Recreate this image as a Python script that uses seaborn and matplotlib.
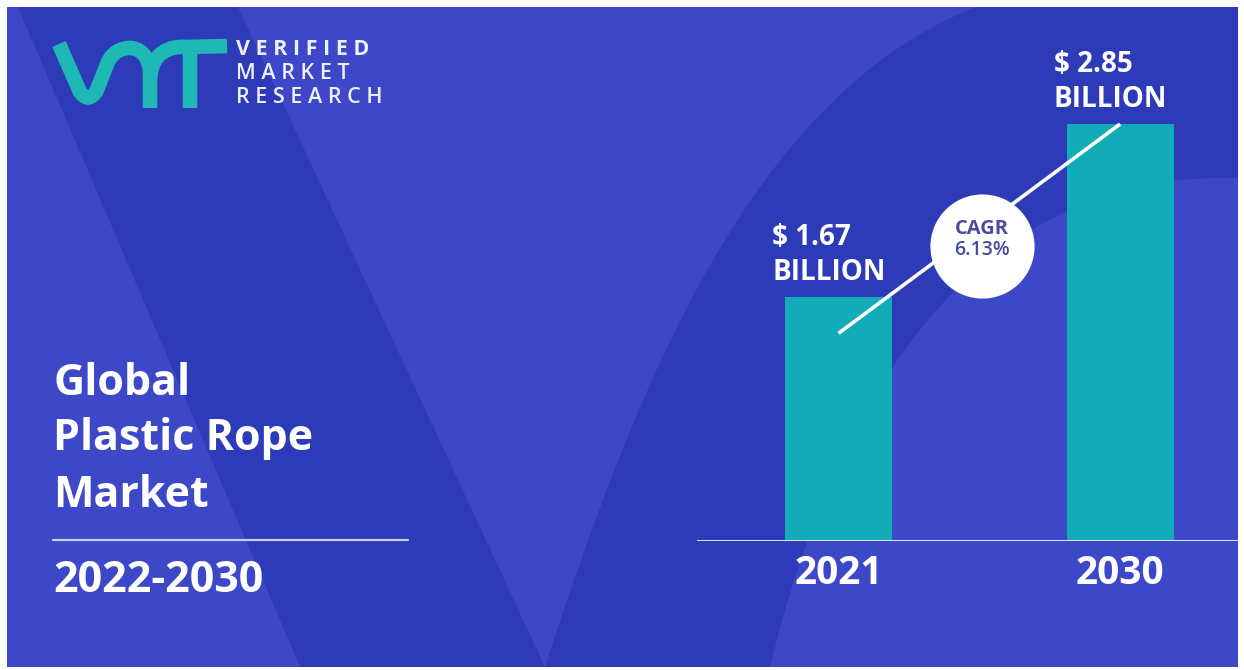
import numpy as np
import pandas as pd
import matplotlib
matplotlib.use('Agg')
import matplotlib.pyplot as plt
from matplotlib.patches import Rectangle, Polygon, PathPatch
from matplotlib.path import Path
import seaborn as sns

# chart data
years = ['2021', '2030']
market_size = [1.67, 2.85]          # USD billion
cagr_label = 'CAGR'
cagr_value = '6.13%'
title_lines = ['Global', 'Plastic Rope', 'Market']
period = '2022-2030'
brand_lines = ['V E R I F I E D', 'M A R K E T', 'R E S E A R C H']

LIGHT = '#3d48c9'
DARK = '#2d3bb8'
TEAL = '#12abb8'
LOGO_TEAL = '#1eb8b5'
LINE = '#dfe2fb'

sns.set_style('white')
plt.rcParams['font.family'] = ['Open Sans', 'DejaVu Sans']

df = pd.DataFrame({'year': years, 'size': market_size})

fig = plt.figure(figsize=(12.44, 6.70), dpi=100)
fig.patch.set_facecolor('white')

# background drawn in pixel coordinates
bg = fig.add_axes([0, 0, 1, 1])
bg.set_xlim(0, 1244)
bg.set_ylim(670, 0)
bg.axis('off')

panel = Rectangle((7, 7), 1231, 660, facecolor=LIGHT, edgecolor='none')
bg.add_patch(panel)

band = Polygon([(18, 7), (238, 7), (545, 667), (300, 667)], closed=True,
               facecolor=DARK, edgecolor='none')
bg.add_patch(band)
band.set_clip_path(panel)

arm_verts = [(545, 667), (635, 390), (750, 95), (976, 7), (1238, 7), (1238, 178),
             (960, 170), (830, 420), (770, 667), (545, 667)]
arm_codes = [Path.MOVETO, Path.CURVE4, Path.CURVE4, Path.CURVE4, Path.LINETO,
             Path.LINETO, Path.CURVE4, Path.CURVE4, Path.CURVE4, Path.CLOSEPOLY]
arm = PathPatch(Path(arm_verts, arm_codes), facecolor=DARK, edgecolor='none')
bg.add_patch(arm)
arm.set_clip_path(panel)

# logo mark (lowercase "vmr")
logo_verts = [(59, 44), (80, 92), (88, 103), (96, 92), (108, 62),
              (116, 44), (146, 40), (150, 70), (150, 108),
              (150, 78), (152, 52), (170, 46), (186, 47), (227, 46),
              (190, 52), (190, 108)]
logo_codes = [Path.MOVETO, Path.LINETO, Path.CURVE3, Path.CURVE3, Path.LINETO,
              Path.CURVE4, Path.CURVE4, Path.CURVE4, Path.LINETO,
              Path.MOVETO, Path.CURVE4, Path.CURVE4, Path.CURVE4, Path.LINETO,
              Path.MOVETO, Path.LINETO]
bg.add_patch(PathPatch(Path(logo_verts, logo_codes), facecolor='none',
                       edgecolor=LOGO_TEAL, lw=10.5, capstyle='butt', joinstyle='round'))

for txt, yb, w in zip(brand_lines, [55, 79, 103], ['bold', 'semibold', 'semibold']):
    bg.text(236, yb, txt, fontsize=15.5, fontweight=w, color='#eef0fb', va='baseline')

for txt, yb in zip(title_lines, [395, 450, 507]):
    bg.text(53, yb, txt, fontsize=31, fontweight='bold', color='white', va='baseline')
bg.plot([53, 408], [540, 540], color='#c9cef6', lw=1.6)
bg.text(53, 592, period, fontsize=31, fontweight='bold', color='white', va='baseline')

# bar chart
ax = fig.add_axes([697 / 1244, (670 - 541) / 670, (1238 - 697) / 1244, 533 / 670])
ax.patch.set_alpha(0)
sns.barplot(data=df, x='year', y='size', color=TEAL, saturation=1, width=0.38,
            linewidth=0, ax=ax, zorder=2)
ax.set_xlim(-0.503, 1.419)
ax.set_ylim(0, 3.643)
sns.despine(ax=ax, left=True, bottom=True)
ax.set_yticks([])
ax.set_xlabel('')
ax.set_ylabel('')
ax.tick_params(axis='x', length=0, pad=9, labelsize=28, labelcolor='white')
for lbl in ax.get_xticklabels():
    lbl.set_fontweight('bold')
ax.axhline(0, color=LINE, lw=2.2, zorder=3)

for i, v in enumerate(market_size):
    ax.annotate(f'$ {v:.2f}', xy=(i - 0.19, v), xytext=(-13, 52),
                textcoords='offset pixels', ha='left', va='baseline',
                fontsize=20, fontweight='bold', color='white')
    ax.annotate('BILLION', xy=(i - 0.19, v), xytext=(-13, 17),
                textcoords='offset pixels', ha='left', va='baseline',
                fontsize=20, fontweight='bold', color='white')

# CAGR connector
ax.plot([0, 1], [market_size[0] * 0.85, market_size[1]], color='white',
        lw=2.6, zorder=4, solid_capstyle='butt')
cx, cy = 0.51, 2.016
ax.plot(cx, cy, marker='o', ms=75, mfc='white', mec='none', zorder=5)
ax.annotate(cagr_label, xy=(cx, cy), xytext=(0, 17), textcoords='offset pixels',
            ha='center', va='center', fontsize=14.5, fontweight='bold',
            color='#474c9e', zorder=6)
ax.annotate(cagr_value, xy=(cx, cy), xytext=(0, -4), textcoords='offset pixels',
            ha='center', va='center', fontsize=14, fontweight='semibold',
            color='#474c9e', zorder=6)

fig.savefig('out.png', dpi=100, facecolor='white')
